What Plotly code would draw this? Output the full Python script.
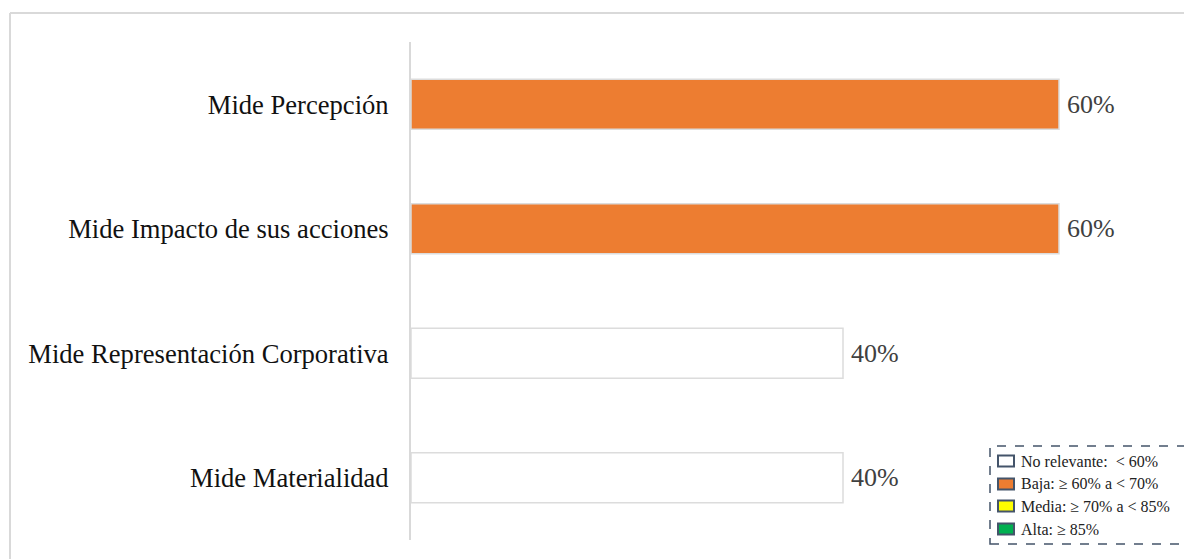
import plotly.graph_objects as go

# Indicator categories (top to bottom) and their percentages
categories = [
    "Mide Percepción",
    "Mide Impacto de sus acciones",
    "Mide Representación Corporativa",
    "Mide Materialidad",
]
values = [60, 60, 40, 40]

# Rating scale: lower bound (%) of each level, label and fill colour
level_bounds = [0, 60, 70, 85]
level_labels = [
    "No relevante:  < 60%",
    "Baja: ≥ 60% a < 70%",
    "Media: ≥ 70% a < 85%",
    "Alta: ≥ 85%",
]
level_colors = ["#FFFFFF", "#ED7D31", "#FFFF00", "#00B050"]


def level_color(v):
    color = level_colors[0]
    for bound, c in zip(level_bounds, level_colors):
        if v >= bound:
            color = c
    return color


bar_colors = [level_color(v) for v in values]

SERIF = "Liberation Serif, Times New Roman, serif"
W, H = 1184, 559
L, R, T, B = 411, 17, 42, 19
PW, PH = W - L - R, H - T - B


def px_x(px):
    return (px - L) / PW


def px_y(py):
    return (H - B - py) / PH


fig = go.Figure(
    go.Bar(
        x=values,
        y=categories,
        orientation="h",
        width=0.4,
        marker=dict(color=bar_colors, line=dict(color="#dcdcdc", width=1.5)),
        hoverinfo="skip",
    )
)

shapes = [
    # outer frame (top and left edges)
    dict(type="line", xref="paper", yref="paper",
         x0=px_x(10), x1=px_x(1190), y0=px_y(13), y1=px_y(13),
         line=dict(color="#d9d9d9", width=2)),
    dict(type="line", xref="paper", yref="paper",
         x0=px_x(10), x1=px_x(10), y0=px_y(13), y1=px_y(565),
         line=dict(color="#d9d9d9", width=2)),
    # dashed legend box
    dict(type="rect", xref="paper", yref="paper",
         x0=px_x(990), x1=px_x(1192), y0=px_y(544), y1=px_y(446),
         line=dict(color="#44546a", width=1.5, dash="dash"),
         fillcolor="rgba(255,255,255,1)", layer="above"),
]

# value labels placed just past the end of each bar
annotations = [
    dict(x=v, y=c, xref="x", yref="y", text=f"{v}%", showarrow=False,
         xanchor="left", yanchor="middle", xshift=6,
         font=dict(family=SERIF, size=26, color="#404040"))
    for c, v in zip(categories, values)
]

row_y = [461, 484, 506, 529]
for ry, lab, col in zip(row_y, level_labels, level_colors):
    shapes.append(dict(type="rect", xref="paper", yref="paper",
                       x0=px_x(998), x1=px_x(1014), y0=px_y(ry + 5.5), y1=px_y(ry - 5.5),
                       line=dict(color="#44546a", width=2), fillcolor=col, layer="above"))
    annotations.append(dict(xref="paper", yref="paper", x=px_x(1019), y=px_y(ry),
                            xanchor="left", yanchor="middle", text=lab, showarrow=False,
                            font=dict(family=SERIF, size=16, color="#222222")))

fig.update_layout(
    width=W, height=H,
    margin=dict(l=L, r=R, t=T, b=B),
    paper_bgcolor="white", plot_bgcolor="white",
    showlegend=False,
    shapes=shapes,
    annotations=annotations,
    xaxis=dict(range=[0, 70], showgrid=False, zeroline=False,
               showticklabels=False, showline=False, fixedrange=True),
    yaxis=dict(categoryorder="array", categoryarray=categories, autorange="reversed",
               showgrid=False, zeroline=False, showline=True, linecolor="#d9d9d9",
               linewidth=2, ticks="", ticklabelstandoff=15,
               tickfont=dict(family=SERIF, size=26.6, color="#111111"), fixedrange=True),
)

fig.write_html("out.html", config={"displayModeBar": False})
